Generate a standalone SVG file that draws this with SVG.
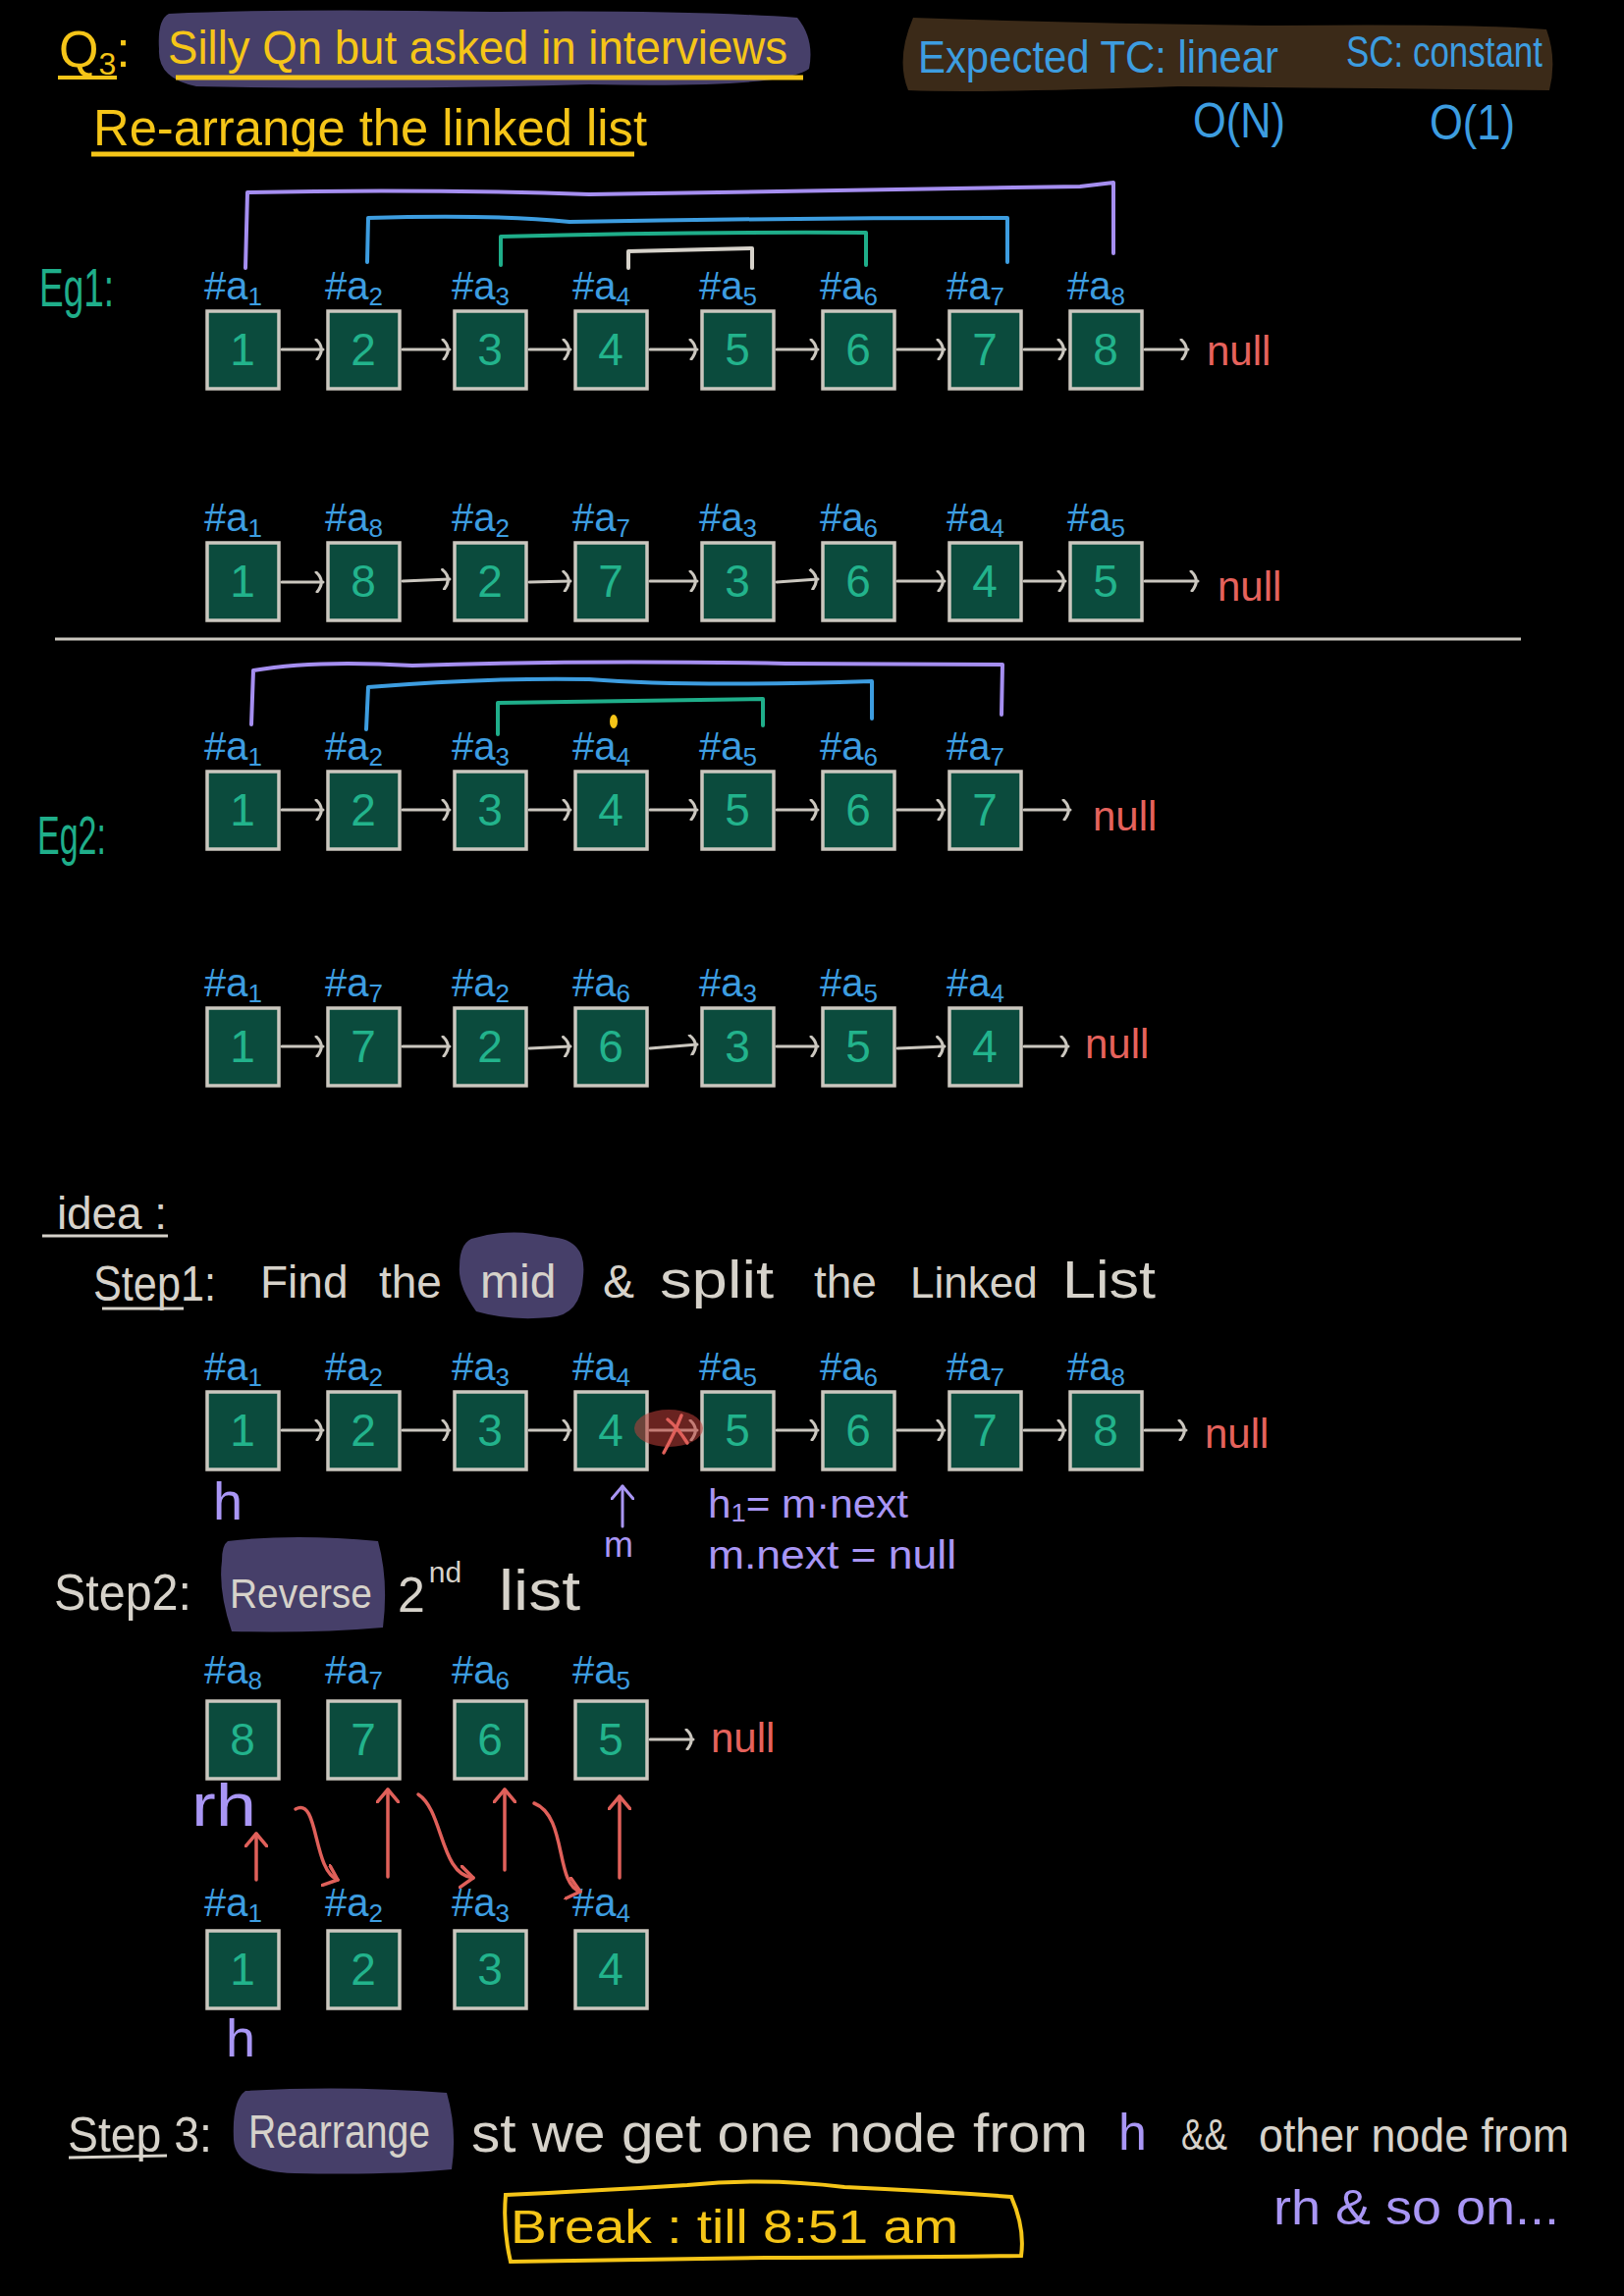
<svg xmlns="http://www.w3.org/2000/svg" width="1654" height="2339" viewBox="0 0 1654 2339">
<defs>
<style>
text{font-family:"Liberation Sans","DejaVu Sans",Arial,sans-serif}
.bx{fill:#0b4b3d;stroke:#cbc7bf;stroke-width:3.5}
.num{fill:#22b38c;font-size:46px;text-anchor:middle}
.lbl{fill:#3d9de0;font-size:40px}
.sub{font-size:26px}
.arr{stroke:#cbc7bf;stroke-width:3;fill:none;stroke-linecap:round}
.null{fill:#e5625c;font-size:42px}
.red{stroke:#e0605a;stroke-width:3.5;fill:none;stroke-linecap:round}
.yel{fill:#f5c518}
.wt{fill:#d6d2ca}
.pur{fill:#a996f5}
.blu{fill:#3d9de0}
.grn{fill:#1fae8a}
.hl{fill:#463f69}
.brk{stroke-width:4;fill:none;stroke-linejoin:round;stroke-linecap:round}
</style>
<marker id="hd" viewBox="0 0 12 22" refX="9" refY="11" markerWidth="12" markerHeight="22" markerUnits="userSpaceOnUse" orient="auto">
<path d="M2,1 Q12,10 3,21" stroke="#cbc7bf" stroke-width="3" fill="none" stroke-linecap="round"/>
</marker>
<marker id="rh" viewBox="0 0 16 24" refX="14" refY="12" markerWidth="16" markerHeight="24" markerUnits="userSpaceOnUse" orient="auto">
<path d="M1,1 L14,12 L1,23" stroke="#e0605a" stroke-width="3.5" fill="none" stroke-linecap="round" stroke-linejoin="round"/>
</marker>
<marker id="ph" viewBox="0 0 16 24" refX="14" refY="12" markerWidth="16" markerHeight="24" markerUnits="userSpaceOnUse" orient="auto">
<path d="M1,1 L14,12 L1,23" stroke="#a996f5" stroke-width="3" fill="none" stroke-linecap="round" stroke-linejoin="round"/>
</marker>
</defs>
<rect x="0" y="0" width="1654" height="2339" fill="#000"/>

<!-- Header -->
<g id="title">
<path class="hl" d="M172,14 Q300,8 500,12 Q700,10 812,18 Q830,40 824,70 Q800,90 600,86 Q400,92 200,88 Q160,80 162,50 Q160,20 172,14 Z"/>
<text class="yel" x="60" y="68" font-size="52">Q<tspan font-size="32" dy="8">3</tspan><tspan dy="-8">:</tspan></text>
<line x1="59" y1="79" x2="119" y2="79" stroke="#f5c518" stroke-width="4"/>
<text class="yel" x="171" y="65" font-size="48" textLength="631" lengthAdjust="spacingAndGlyphs">Silly Qn but asked in interviews</text>
<line x1="179" y1="79" x2="818" y2="79" stroke="#f5c518" stroke-width="5"/>
<text class="yel" x="95" y="148" font-size="52" textLength="564" lengthAdjust="spacingAndGlyphs">Re-arrange the linked list</text>
<line x1="93" y1="157" x2="646" y2="157" stroke="#f5c518" stroke-width="5"/>
</g>
<g id="complexity">
<path fill="#3b2a18" d="M930,18 Q1100,24 1300,26 Q1500,24 1575,30 Q1586,60 1578,92 Q1400,90 1200,88 Q1000,95 925,92 Q912,60 930,18 Z"/>
<text class="blu" x="935" y="74" font-size="46" textLength="367" lengthAdjust="spacingAndGlyphs">Expected TC: linear</text>
<text class="blu" x="1371" y="68" font-size="44" textLength="200" lengthAdjust="spacingAndGlyphs">SC: constant</text>
<text class="blu" x="1215" y="140" font-size="50" textLength="94" lengthAdjust="spacingAndGlyphs">O(N)</text>
<text class="blu" x="1456" y="142" font-size="50" textLength="87" lengthAdjust="spacingAndGlyphs">O(1)</text>
</g>

<!-- Eg1 -->
<text id="eg1" class="grn" x="40" y="312" font-size="56" textLength="76" lengthAdjust="spacingAndGlyphs">Eg1:</text>
<g id="eg1-brackets">
<path class="brk" stroke="#a58ef0" d="M250,273 L252,196 Q420,192 600,198 Q850,194 1100,190 L1134,186 L1134,258"/>
<path class="brk" stroke="#3d9de0" d="M374,267 L375,222 Q500,218 580,226 Q800,222 1026,222 L1026,267"/>
<path class="brk" stroke="#1fae8a" d="M510,270 L510,241 Q700,236 882,237 L882,270"/>
<path class="brk" stroke="#d6d2ca" d="M640,273 L640,256 L766,253 L766,273"/>
</g>

<!-- Row A -->
<g id="a1"><rect class="bx" x="211" y="317" width="73" height="79"/><text class="num" x="247" y="372">1</text><text class="lbl" x="208" y="305">#a<tspan class="sub" dy="6">1</tspan></text></g>
<g id="a2"><rect class="bx" x="334" y="317" width="73" height="79"/><text class="num" x="370" y="372">2</text><text class="lbl" x="331" y="305">#a<tspan class="sub" dy="6">2</tspan></text></g>
<g id="a3"><rect class="bx" x="463" y="317" width="73" height="79"/><text class="num" x="499" y="372">3</text><text class="lbl" x="460" y="305">#a<tspan class="sub" dy="6">3</tspan></text></g>
<g id="a4"><rect class="bx" x="586" y="317" width="73" height="79"/><text class="num" x="622" y="372">4</text><text class="lbl" x="583" y="305">#a<tspan class="sub" dy="6">4</tspan></text></g>
<g id="a5"><rect class="bx" x="715" y="317" width="73" height="79"/><text class="num" x="751" y="372">5</text><text class="lbl" x="712" y="305">#a<tspan class="sub" dy="6">5</tspan></text></g>
<g id="a6"><rect class="bx" x="838" y="317" width="73" height="79"/><text class="num" x="874" y="372">6</text><text class="lbl" x="835" y="305">#a<tspan class="sub" dy="6">6</tspan></text></g>
<g id="a7"><rect class="bx" x="967" y="317" width="73" height="79"/><text class="num" x="1003" y="372">7</text><text class="lbl" x="964" y="305">#a<tspan class="sub" dy="6">7</tspan></text></g>
<g id="a8"><rect class="bx" x="1090" y="317" width="73" height="79"/><text class="num" x="1126" y="372">8</text><text class="lbl" x="1087" y="305">#a<tspan class="sub" dy="6">8</tspan></text></g>
<text id="a-null" class="null" x="1229" y="372">null</text>

<!-- Row B -->
<g id="b1"><rect class="bx" x="211" y="553" width="73" height="79"/><text class="num" x="247" y="608">1</text><text class="lbl" x="208" y="541">#a<tspan class="sub" dy="6">1</tspan></text></g>
<g id="b2"><rect class="bx" x="334" y="553" width="73" height="79"/><text class="num" x="370" y="608">8</text><text class="lbl" x="331" y="541">#a<tspan class="sub" dy="6">8</tspan></text></g>
<g id="b3"><rect class="bx" x="463" y="553" width="73" height="79"/><text class="num" x="499" y="608">2</text><text class="lbl" x="460" y="541">#a<tspan class="sub" dy="6">2</tspan></text></g>
<g id="b4"><rect class="bx" x="586" y="553" width="73" height="79"/><text class="num" x="622" y="608">7</text><text class="lbl" x="583" y="541">#a<tspan class="sub" dy="6">7</tspan></text></g>
<g id="b5"><rect class="bx" x="715" y="553" width="73" height="79"/><text class="num" x="751" y="608">3</text><text class="lbl" x="712" y="541">#a<tspan class="sub" dy="6">3</tspan></text></g>
<g id="b6"><rect class="bx" x="838" y="553" width="73" height="79"/><text class="num" x="874" y="608">6</text><text class="lbl" x="835" y="541">#a<tspan class="sub" dy="6">6</tspan></text></g>
<g id="b7"><rect class="bx" x="967" y="553" width="73" height="79"/><text class="num" x="1003" y="608">4</text><text class="lbl" x="964" y="541">#a<tspan class="sub" dy="6">4</tspan></text></g>
<g id="b8"><rect class="bx" x="1090" y="553" width="73" height="79"/><text class="num" x="1126" y="608">5</text><text class="lbl" x="1087" y="541">#a<tspan class="sub" dy="6">5</tspan></text></g>
<text id="b-null" class="null" x="1240" y="612">null</text>

<line id="separator" x1="56" y1="651" x2="1549" y2="651" stroke="#cbc7bf" stroke-width="3"/>

<!-- Eg2 -->
<text id="eg2" class="grn" x="38" y="870" font-size="56" textLength="70" lengthAdjust="spacingAndGlyphs">Eg2:</text>
<g id="eg2-brackets">
<path class="brk" stroke="#a58ef0" d="M256,738 L258,683 Q320,672 420,678 Q600,672 800,676 L1021,677 L1020,728"/>
<path class="brk" stroke="#3d9de0" d="M373,743 L375,700 Q500,690 600,692 Q700,700 888,694 L888,732"/>
<path class="brk" stroke="#1fae8a" d="M507,748 L507,716 Q650,714 777,712 L777,739"/>
<ellipse cx="625" cy="735" rx="4" ry="7" fill="#f5c518"/>
</g>

<!-- Row C -->
<g id="c1"><rect class="bx" x="211" y="786" width="73" height="79"/><text class="num" x="247" y="841">1</text><text class="lbl" x="208" y="774">#a<tspan class="sub" dy="6">1</tspan></text></g>
<g id="c2"><rect class="bx" x="334" y="786" width="73" height="79"/><text class="num" x="370" y="841">2</text><text class="lbl" x="331" y="774">#a<tspan class="sub" dy="6">2</tspan></text></g>
<g id="c3"><rect class="bx" x="463" y="786" width="73" height="79"/><text class="num" x="499" y="841">3</text><text class="lbl" x="460" y="774">#a<tspan class="sub" dy="6">3</tspan></text></g>
<g id="c4"><rect class="bx" x="586" y="786" width="73" height="79"/><text class="num" x="622" y="841">4</text><text class="lbl" x="583" y="774">#a<tspan class="sub" dy="6">4</tspan></text></g>
<g id="c5"><rect class="bx" x="715" y="786" width="73" height="79"/><text class="num" x="751" y="841">5</text><text class="lbl" x="712" y="774">#a<tspan class="sub" dy="6">5</tspan></text></g>
<g id="c6"><rect class="bx" x="838" y="786" width="73" height="79"/><text class="num" x="874" y="841">6</text><text class="lbl" x="835" y="774">#a<tspan class="sub" dy="6">6</tspan></text></g>
<g id="c7"><rect class="bx" x="967" y="786" width="73" height="79"/><text class="num" x="1003" y="841">7</text><text class="lbl" x="964" y="774">#a<tspan class="sub" dy="6">7</tspan></text></g>
<text id="c-null" class="null" x="1113" y="846">null</text>

<!-- Row D -->
<g id="d1"><rect class="bx" x="211" y="1027" width="73" height="79"/><text class="num" x="247" y="1082">1</text><text class="lbl" x="208" y="1015">#a<tspan class="sub" dy="6">1</tspan></text></g>
<g id="d2"><rect class="bx" x="334" y="1027" width="73" height="79"/><text class="num" x="370" y="1082">7</text><text class="lbl" x="331" y="1015">#a<tspan class="sub" dy="6">7</tspan></text></g>
<g id="d3"><rect class="bx" x="463" y="1027" width="73" height="79"/><text class="num" x="499" y="1082">2</text><text class="lbl" x="460" y="1015">#a<tspan class="sub" dy="6">2</tspan></text></g>
<g id="d4"><rect class="bx" x="586" y="1027" width="73" height="79"/><text class="num" x="622" y="1082">6</text><text class="lbl" x="583" y="1015">#a<tspan class="sub" dy="6">6</tspan></text></g>
<g id="d5"><rect class="bx" x="715" y="1027" width="73" height="79"/><text class="num" x="751" y="1082">3</text><text class="lbl" x="712" y="1015">#a<tspan class="sub" dy="6">3</tspan></text></g>
<g id="d6"><rect class="bx" x="838" y="1027" width="73" height="79"/><text class="num" x="874" y="1082">5</text><text class="lbl" x="835" y="1015">#a<tspan class="sub" dy="6">5</tspan></text></g>
<g id="d7"><rect class="bx" x="967" y="1027" width="73" height="79"/><text class="num" x="1003" y="1082">4</text><text class="lbl" x="964" y="1015">#a<tspan class="sub" dy="6">4</tspan></text></g>
<text id="d-null" class="null" x="1105" y="1078">null</text>

<!-- Idea / Step 1 -->
<g id="idea">
<text class="wt" x="58" y="1252" font-size="46" textLength="112" lengthAdjust="spacing">idea :</text>
<line x1="43" y1="1259" x2="171" y2="1259" stroke="#d6d2ca" stroke-width="3"/>
</g>
<g id="step1-text">
<path class="hl" d="M480,1262 Q520,1250 560,1260 Q598,1262 594,1300 Q592,1340 560,1342 Q520,1346 485,1336 Q466,1310 468,1290 Q468,1268 480,1262 Z"/>
<text class="wt" x="95" y="1325" font-size="50" textLength="125" lengthAdjust="spacingAndGlyphs">Step1:</text>
<line x1="104" y1="1333" x2="187" y2="1333" stroke="#d6d2ca" stroke-width="3"/>
<text class="wt" x="265" y="1322" font-size="46">Find</text>
<text class="wt" x="386" y="1322" font-size="46">the</text>
<text class="wt" x="489" y="1322" font-size="48">mid</text>
<text class="wt" x="614" y="1322" font-size="48">&amp;</text>
<text class="wt" x="672" y="1322" font-size="54" textLength="116" lengthAdjust="spacingAndGlyphs">split</text>
<text class="wt" x="829" y="1322" font-size="46">the</text>
<text class="wt" x="927" y="1322" font-size="44">Linked</text>
<text class="wt" x="1082" y="1322" font-size="54" textLength="95" lengthAdjust="spacingAndGlyphs">List</text>
</g>

<!-- Step1 list -->
<g id="s1"><rect class="bx" x="211" y="1418" width="73" height="79"/><text class="num" x="247" y="1473">1</text><text class="lbl" x="208" y="1406">#a<tspan class="sub" dy="6">1</tspan></text></g>
<g id="s2"><rect class="bx" x="334" y="1418" width="73" height="79"/><text class="num" x="370" y="1473">2</text><text class="lbl" x="331" y="1406">#a<tspan class="sub" dy="6">2</tspan></text></g>
<g id="s3"><rect class="bx" x="463" y="1418" width="73" height="79"/><text class="num" x="499" y="1473">3</text><text class="lbl" x="460" y="1406">#a<tspan class="sub" dy="6">3</tspan></text></g>
<g id="s4"><rect class="bx" x="586" y="1418" width="73" height="79"/><text class="num" x="622" y="1473">4</text><text class="lbl" x="583" y="1406">#a<tspan class="sub" dy="6">4</tspan></text></g>
<g id="s5"><rect class="bx" x="715" y="1418" width="73" height="79"/><text class="num" x="751" y="1473">5</text><text class="lbl" x="712" y="1406">#a<tspan class="sub" dy="6">5</tspan></text></g>
<g id="s6"><rect class="bx" x="838" y="1418" width="73" height="79"/><text class="num" x="874" y="1473">6</text><text class="lbl" x="835" y="1406">#a<tspan class="sub" dy="6">6</tspan></text></g>
<g id="s7"><rect class="bx" x="967" y="1418" width="73" height="79"/><text class="num" x="1003" y="1473">7</text><text class="lbl" x="964" y="1406">#a<tspan class="sub" dy="6">7</tspan></text></g>
<g id="s8"><rect class="bx" x="1090" y="1418" width="73" height="79"/><text class="num" x="1126" y="1473">8</text><text class="lbl" x="1087" y="1406">#a<tspan class="sub" dy="6">8</tspan></text></g>
<text id="s-null" class="null" x="1227" y="1475">null</text>
<g id="s-annot">
<text class="pur" x="217" y="1548" font-size="54">h</text>
<text class="pur" x="615" y="1586" font-size="36">m</text>
<text class="pur" x="721" y="1546" font-size="40" textLength="204" lengthAdjust="spacingAndGlyphs">h<tspan font-size="26" dy="4">1</tspan><tspan dy="-4">= m·next</tspan></text>
<text class="pur" x="721" y="1598" font-size="40" textLength="253" lengthAdjust="spacingAndGlyphs">m.next = null</text>
</g>

<!-- Step 2 -->
<g id="step2-text">
<path class="hl" d="M232,1570 Q300,1562 385,1570 Q396,1610 390,1658 Q320,1664 236,1662 Q222,1620 226,1590 Q226,1574 232,1570 Z"/>
<text class="wt" x="55" y="1640" font-size="52" textLength="140" lengthAdjust="spacingAndGlyphs">Step2:</text>
<text class="wt" x="234" y="1638" font-size="42" textLength="145" lengthAdjust="spacingAndGlyphs">Reverse</text>
<text class="wt" x="405" y="1642" font-size="50">2<tspan font-size="30" dx="4" dy="-30">nd</tspan></text>
<text class="wt" x="508" y="1640" font-size="58" textLength="83" lengthAdjust="spacingAndGlyphs">list</text>
</g>
<g id="r1"><rect class="bx" x="211" y="1733" width="73" height="79"/><text class="num" x="247" y="1788">8</text><text class="lbl" x="208" y="1715">#a<tspan class="sub" dy="6">8</tspan></text></g>
<g id="r2"><rect class="bx" x="334" y="1733" width="73" height="79"/><text class="num" x="370" y="1788">7</text><text class="lbl" x="331" y="1715">#a<tspan class="sub" dy="6">7</tspan></text></g>
<g id="r3"><rect class="bx" x="463" y="1733" width="73" height="79"/><text class="num" x="499" y="1788">6</text><text class="lbl" x="460" y="1715">#a<tspan class="sub" dy="6">6</tspan></text></g>
<g id="r4"><rect class="bx" x="586" y="1733" width="73" height="79"/><text class="num" x="622" y="1788">5</text><text class="lbl" x="583" y="1715">#a<tspan class="sub" dy="6">5</tspan></text></g>
<text id="r-null" class="null" x="724" y="1785">null</text>
<text id="rh-label" class="pur" x="195" y="1860" font-size="62" textLength="66" lengthAdjust="spacingAndGlyphs">rh</text>
<g id="l1"><rect class="bx" x="211" y="1967" width="73" height="79"/><text class="num" x="247" y="2022">1</text><text class="lbl" x="208" y="1952">#a<tspan class="sub" dy="6">1</tspan></text></g>
<g id="l2"><rect class="bx" x="334" y="1967" width="73" height="79"/><text class="num" x="370" y="2022">2</text><text class="lbl" x="331" y="1952">#a<tspan class="sub" dy="6">2</tspan></text></g>
<g id="l3"><rect class="bx" x="463" y="1967" width="73" height="79"/><text class="num" x="499" y="2022">3</text><text class="lbl" x="460" y="1952">#a<tspan class="sub" dy="6">3</tspan></text></g>
<g id="l4"><rect class="bx" x="586" y="1967" width="73" height="79"/><text class="num" x="622" y="2022">4</text><text class="lbl" x="583" y="1952">#a<tspan class="sub" dy="6">4</tspan></text></g>
<text id="h-label" class="pur" x="230" y="2095" font-size="54">h</text>

<!-- Step 3 -->
<g id="step3-text">
<path class="hl" d="M250,2130 Q350,2124 455,2132 Q466,2170 460,2210 Q400,2216 300,2214 Q240,2212 238,2180 Q236,2140 250,2130 Z"/>
<text class="wt" x="69" y="2192" font-size="50" textLength="147" lengthAdjust="spacingAndGlyphs">Step 3:</text>
<line x1="70" y1="2198" x2="170" y2="2196" stroke="#d6d2ca" stroke-width="3"/>
<text class="wt" x="253" y="2188" font-size="48" textLength="185" lengthAdjust="spacingAndGlyphs">Rearrange</text>
<text class="wt" x="480" y="2192" font-size="56" textLength="628" lengthAdjust="spacingAndGlyphs">st we get one node from</text>
<text class="pur" x="1139" y="2190" font-size="52">h</text>
<text class="wt" x="1203" y="2190" font-size="44" textLength="47" lengthAdjust="spacingAndGlyphs">&amp;&amp;</text>
<text class="wt" x="1282" y="2192" font-size="48" textLength="316" lengthAdjust="spacingAndGlyphs">other node from</text>
<text class="pur" x="1297" y="2266" font-size="50" textLength="291" lengthAdjust="spacingAndGlyphs">rh &amp; so on...</text>
</g>
<g id="break">
<path d="M515,2236 Q600,2232 700,2226 Q780,2218 860,2228 Q950,2232 1030,2238 Q1044,2270 1040,2298 Q900,2300 780,2300 Q650,2302 520,2304 Q512,2270 515,2236 Z" fill="none" stroke="#f5c518" stroke-width="4"/>
<text class="yel" x="520" y="2285" font-size="48" textLength="456" lengthAdjust="spacingAndGlyphs">Break : till 8:51 am</text>
</g>

<!-- Connectors -->
<g id="connectors">
<g class="arr" marker-end="url(#hd)">
<line x1="287" y1="356" x2="329" y2="356"/><line x1="410" y1="356" x2="458" y2="356"/><line x1="539" y1="356" x2="581" y2="356"/><line x1="662" y1="356" x2="710" y2="356"/><line x1="791" y1="356" x2="833" y2="356"/><line x1="914" y1="356" x2="962" y2="356"/><line x1="1043" y1="356" x2="1085" y2="356"/><line x1="1166" y1="356" x2="1210" y2="356"/>
<line x1="287" y1="593" x2="329" y2="593"/><line x1="410" y1="592" x2="458" y2="590"/><line x1="539" y1="593" x2="581" y2="592"/><line x1="662" y1="592" x2="710" y2="592"/><line x1="791" y1="593" x2="833" y2="590"/><line x1="914" y1="592" x2="962" y2="592"/><line x1="1043" y1="592" x2="1085" y2="592"/><line x1="1166" y1="592" x2="1220" y2="592"/>
<line x1="287" y1="825" x2="329" y2="825"/><line x1="410" y1="825" x2="458" y2="825"/><line x1="539" y1="825" x2="581" y2="825"/><line x1="662" y1="825" x2="710" y2="825"/><line x1="791" y1="825" x2="833" y2="825"/><line x1="914" y1="825" x2="962" y2="825"/><line x1="1043" y1="825" x2="1090" y2="825"/>
<line x1="287" y1="1066" x2="329" y2="1066"/><line x1="410" y1="1066" x2="458" y2="1066"/><line x1="539" y1="1068" x2="581" y2="1066"/><line x1="662" y1="1068" x2="710" y2="1064"/><line x1="791" y1="1066" x2="833" y2="1066"/><line x1="914" y1="1068" x2="962" y2="1066"/><line x1="1043" y1="1066" x2="1088" y2="1066"/>
<line x1="287" y1="1457" x2="329" y2="1457"/><line x1="410" y1="1457" x2="458" y2="1457"/><line x1="539" y1="1457" x2="581" y2="1457"/><line x1="662" y1="1457" x2="710" y2="1457"/><line x1="791" y1="1457" x2="833" y2="1457"/><line x1="914" y1="1457" x2="962" y2="1457"/><line x1="1043" y1="1457" x2="1085" y2="1457"/><line x1="1166" y1="1457" x2="1208" y2="1457"/>
<line x1="662" y1="1772" x2="706" y2="1772"/>
</g>
<g id="cut">
<ellipse cx="681" cy="1455" rx="35" ry="19" fill="#c0403a" fill-opacity="0.55"/>
<path class="red" d="M694,1442 Q688,1458 676,1480"/>
<path class="red" d="M680,1446 Q690,1454 700,1470"/>
</g>
<line x1="634" y1="1555" x2="634" y2="1514" stroke="#a996f5" stroke-width="3" stroke-linecap="round" marker-end="url(#ph)"/>
<g class="red" marker-end="url(#rh)">
<line x1="261" y1="1915" x2="261" y2="1868"/>
<path d="M301,1843 C325,1830 318,1905 344,1915"/>
<line x1="395" y1="1912" x2="395" y2="1823"/>
<path d="M426,1828 C452,1845 448,1910 482,1913"/>
<line x1="514" y1="1905" x2="514" y2="1823"/>
<path d="M544,1837 C578,1850 565,1920 591,1927"/>
<line x1="631" y1="1913" x2="631" y2="1830"/>
</g>
</g>
</svg>
